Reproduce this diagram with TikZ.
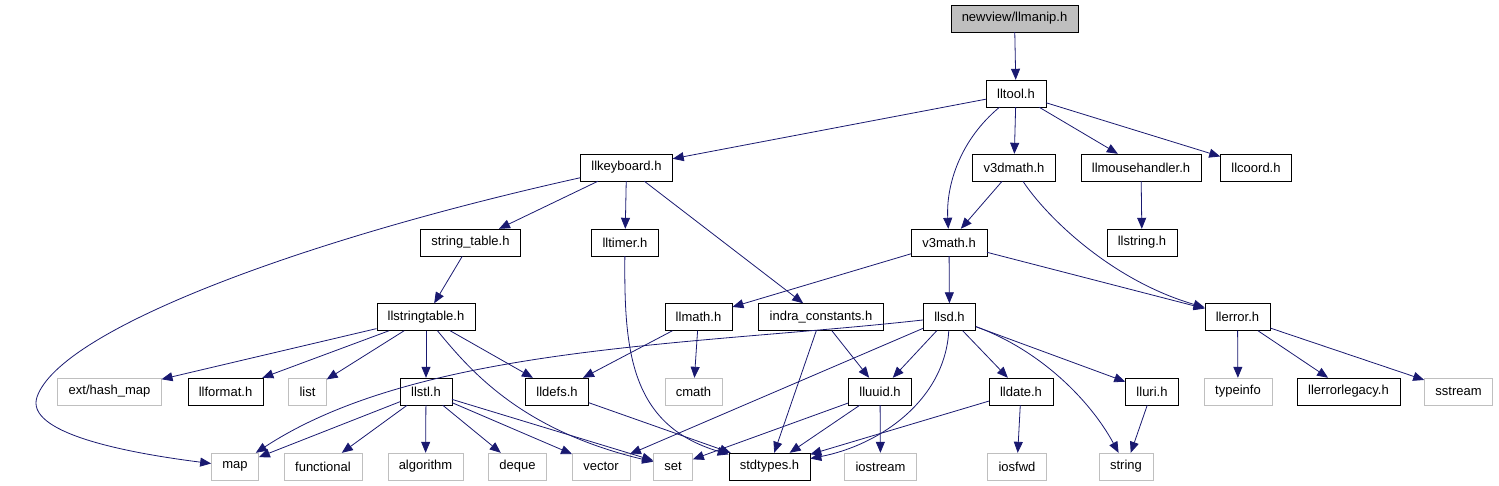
\documentclass[tikz,border=0pt]{standalone}
\usepackage{fontspec}
\setmainfont{Liberation Sans}
\usetikzlibrary{arrows.meta}
\definecolor{edgeblue}{RGB}{25,25,112}
\definecolor{sysgray}{RGB}{191,191,191}
\begin{document}
\begin{tikzpicture}
  [x=1pt, y=-1pt,
   every node/.style={draw=black, rectangle, inner xsep=11pt, inner ysep=0pt,
     minimum height=27pt, font=\fontsize{13}{15}\selectfont},
   sysfile/.style={draw=sysgray},
   rootfile/.style={fill=sysgray},
   dep/.style={draw=edgeblue, line width=0.8pt, -{Triangle[length=11pt,width=9pt]}}]
  \useasboundingbox (0,0) rectangle (1499,485);
  \node [rootfile] (manip) at (1014.5,18.5) {newview/llmanip.h};
  \node (tool) at (1016,93.5) {lltool.h};
  \node (keyboard) at (626.5,167.5) {llkeyboard.h};
  \node (v3dmath) at (1014,167.5) {v3dmath.h};
  \node (mouse) at (1141,167.5) {llmousehandler.h};
  \node (coord) at (1256,167.5) {llcoord.h};
  \node (strtable) at (470.5,242.5) {string\_table.h};
  \node (timer) at (625,242.5) {lltimer.h};
  \node (v3math) at (949,242.5) {v3math.h};
  \node (llstring) at (1142,242.5) {llstring.h};
  \node (strtab) at (426,317) {llstringtable.h};
  \node (math) at (698.5,317) {llmath.h};
  \node (indra) at (821,317) {indra\_constants.h};
  \node (llsd) at (949.5,317) {llsd.h};
  \node (llerror) at (1237.5,317) {llerror.h};
  \node [sysfile] (hashmap) at (109.5,391.5) {ext/hash\_map};
  \node (format) at (225.5,391.5) {llformat.h};
  \node [sysfile] (list) at (307.5,391.5) {list};
  \node (stl) at (426,391.5) {llstl.h};
  \node (defs) at (557,391.5) {lldefs.h};
  \node [sysfile] (cmath) at (693.5,391.5) {cmath};
  \node (uuid) at (880,391.5) {lluuid.h};
  \node (date) at (1021,391.5) {lldate.h};
  \node (uri) at (1152,391.5) {lluri.h};
  \node [sysfile] (typeinfo) at (1238,391.5) {typeinfo};
  \node (errlegacy) at (1348.5,391.5) {llerrorlegacy.h};
  \node [sysfile] (sstream) at (1458.5,391.5) {sstream};
  \node [sysfile] (map) at (235,466.5) {map};
  \node [sysfile] (functional) at (323,466.5) {functional};
  \node [sysfile] (algorithm) at (425.5,466.5) {algorithm};
  \node [sysfile] (deque) at (517.5,466.5) {deque};
  \node [sysfile] (vector) at (601,466.5) {vector};
  \node [sysfile] (set) at (673,466.5) {set};
  \node (stdtypes) at (769.5,466.5) {stdtypes.h};
  \node [sysfile] (iostream) at (880.5,466.5) {iostream};
  \node [sysfile] (iosfwd) at (1017,466.5) {iosfwd};
  \node [sysfile] (string) at (1126,466.5) {string};

  \draw [dep] (manip) -- (tool);
  \draw [dep] (tool) -- (keyboard);
  \draw [dep] (tool) .. controls (960,140) and (946,185) .. (v3math);
  \draw [dep] (tool) -- (v3dmath);
  \draw [dep] (tool) -- (mouse);
  \draw [dep] (tool) -- (coord);
  \draw [dep] (keyboard) .. controls (300,240) and (60,330) .. (37,397)
     .. controls (25,432) and (120,452) .. (map);
  \draw [dep] (keyboard) -- (strtable);
  \draw [dep] (keyboard) -- (timer);
  \draw [dep] (keyboard) -- (indra);
  \draw [dep] (v3dmath) -- (v3math);
  \draw [dep] (v3dmath) .. controls (1045,215) and (1110,280) .. (llerror);
  \draw [dep] (mouse) -- (llstring);
  \draw [dep] (strtable) -- (strtab);
  \draw [dep] (timer) .. controls (624,350) and (630,425) .. (stdtypes);
  \draw [dep] (v3math) -- (math);
  \draw [dep] (v3math) -- (llsd);
  \draw [dep] (v3math) -- (llerror);
  \draw [dep] (strtab) -- (hashmap);
  \draw [dep] (strtab) -- (format);
  \draw [dep] (strtab) -- (list);
  \draw [dep] (strtab) -- (stl);
  \draw [dep] (strtab) -- (defs);
  \draw [dep] (strtab) .. controls (470,370) and (520,430) .. (set);
  \draw [dep] (math) -- (defs);
  \draw [dep] (math) -- (cmath);
  \draw [dep] (indra) -- (stdtypes);
  \draw [dep] (indra) -- (uuid);
  \draw [dep] (llsd) .. controls (700,345) and (420,345) .. (map);
  \draw [dep] (llsd) -- (vector);
  \draw [dep] (llsd) -- (uuid);
  \draw [dep] (llsd) .. controls (945,400) and (880,445) .. (stdtypes);
  \draw [dep] (llsd) -- (date);
  \draw [dep] (llsd) -- (uri);
  \draw [dep] (llsd) .. controls (1040,350) and (1090,400) .. (string);
  \draw [dep] (llerror) -- (typeinfo);
  \draw [dep] (llerror) -- (errlegacy);
  \draw [dep] (llerror) -- (sstream);
  \draw [dep] (stl) -- (map);
  \draw [dep] (stl) -- (functional);
  \draw [dep] (stl) -- (algorithm);
  \draw [dep] (stl) -- (deque);
  \draw [dep] (stl) -- (vector);
  \draw [dep] (stl) -- (set);
  \draw [dep] (defs) -- (stdtypes);
  \draw [dep] (uuid) -- (set);
  \draw [dep] (uuid) -- (stdtypes);
  \draw [dep] (uuid) -- (iostream);
  \draw [dep] (date) -- (stdtypes);
  \draw [dep] (date) -- (iosfwd);
  \draw [dep] (uri) -- (string);
\end{tikzpicture}
\end{document}
